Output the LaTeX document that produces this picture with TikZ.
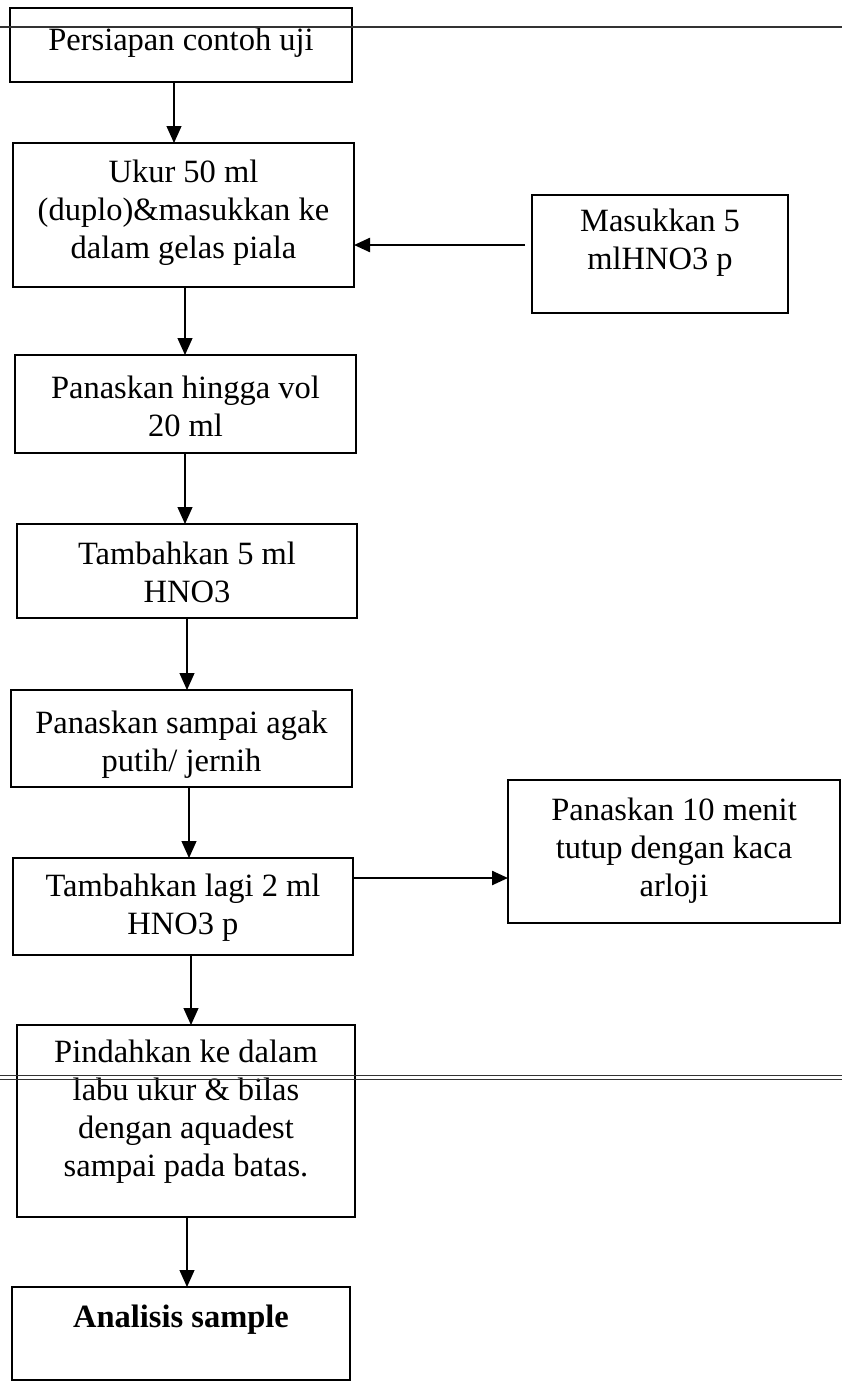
\documentclass[tikz,border=0pt]{standalone}
\usepackage{fontspec}
\setmainfont{Liberation Serif}
\usetikzlibrary{arrows.meta}

\begin{document}
\begin{tikzpicture}[x=1pt,y=-1pt,
  box/.style={draw=black, line width=1.8pt, inner sep=0pt, outer sep=0pt,
              rectangle},
  txt/.style={inner sep=0pt, align=center, font=\fontsize{32.5}{38}\selectfont},
  varr/.style={line width=1.2pt, -{Triangle[length=17pt,width=15pt]}},
  harr/.style={line width=2.4pt, -{Triangle[length=16pt,width=14pt]}},
  scanline/.style={line width=1.4pt, black!80}
]
\useasboundingbox (0,0) rectangle (842,1382);

% boxes of the main column
\node[box, minimum width=342pt, minimum height=74pt]  (b1) at (181,45)     {};
\node[box, minimum width=341pt, minimum height=144pt] (b2) at (183.5,215)  {};
\node[box, minimum width=341pt, minimum height=98pt]  (b3) at (185.5,404)  {};
\node[box, minimum width=340pt, minimum height=94pt]  (b4) at (187,571)    {};
\node[box, minimum width=341pt, minimum height=97pt]  (b5) at (181.5,738.5){};
\node[box, minimum width=340pt, minimum height=97pt]  (b6) at (183,906.5)  {};
\node[box, minimum width=338pt, minimum height=192pt] (b7) at (186,1121)   {};
\node[box, minimum width=338pt, minimum height=93pt]  (b8) at (181,1333.5) {};

% side boxes
\node[box, minimum width=256pt, minimum height=118pt] (m)  at (660,254)    {};
\node[box, minimum width=332pt, minimum height=143pt] (p)  at (674,851.5)  {};

% texts
\node[txt] (t1) at (181,43)    {Persiapan contoh uji};
\node[txt] (t2) at (183.5,213) {Ukur 50 ml\\(duplo)\&masukkan ke\\dalam gelas piala};
\node[txt] (t3) at (185.5,406) {Panaskan hingga vol\\20 ml};
\node[txt] (t4) at (187,572)   {Tambahkan 5 ml\\HNO3};
\node[txt] (t5) at (181.5,745) {Panaskan sampai agak\\putih/ jernih};
\node[txt] (t6) at (183,908)   {Tambahkan lagi 2 ml\\HNO3 p};
\node[txt] (t7) at (186,1112)  {Pindahkan ke dalam\\labu ukur \& bilas\\dengan aquadest\\sampai pada batas.};
\node[txt, font=\fontsize{32.5}{38}\selectfont\bfseries] (t8) at (181,1320) {Analisis sample};
\node[txt] (tm) at (660,243)   {Masukkan 5\\mlHNO3 p};
\node[txt] (tp) at (674,851)   {Panaskan 10 menit\\tutup dengan kaca\\arloji};

% vertical connectors
\draw[varr] ([xshift=-7pt]b1.south)  -- ([xshift=-7pt]b1.south |- b2.north);
\draw[varr] ([xshift=1.5pt]b2.south) -- ([xshift=1.5pt]b2.south |- b3.north);
\draw[varr] ([xshift=-0.5pt]b3.south)-- ([xshift=-0.5pt]b3.south |- b4.north);
\draw[varr] (b4.south)               -- (b4.south |- b5.north);
\draw[varr] ([xshift=7.5pt]b5.south) -- ([xshift=7.5pt]b5.south |- b6.north);
\draw[varr] ([xshift=8pt]b6.south)   -- ([xshift=8pt]b6.south |- b7.north);
\draw[varr] ([xshift=1pt]b7.south)   -- ([xshift=1pt]b7.south |- b8.north);

% horizontal connectors
\draw[harr] ([xshift=-7pt,yshift=9pt]m.west) -- ([yshift=9pt]m.west -| b2.east);
\draw[harr] ([yshift=28.5pt]b6.east) -- ([yshift=28.5pt]b6.east -| p.west);

% ruled lines across the sheet
\draw[scanline] (0,27) -- (842,27);
\draw[line width=0.9pt, black!80] (0,1075) -- (842,1075);
\draw[line width=0.9pt, black!80] (0,1079) -- (842,1079);
\end{tikzpicture}
\end{document}
